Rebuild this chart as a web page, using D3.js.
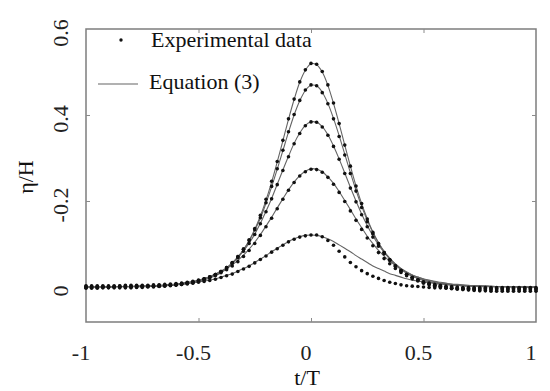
<!DOCTYPE html>
<html><head><meta charset="utf-8">
<script src="https://cdn.jsdelivr.net/npm/d3@7"></script>
<style>html,body{margin:0;padding:0;background:#fff;} svg{display:block;}
text{font-family:"Liberation Serif","Times New Roman",serif;}</style>
</head><body><svg id="c" width="550" height="391"></svg>
<script>
// normalized time grid t/T
const tGrid = [-1,-0.975,-0.95,-0.925,-0.9,-0.875,-0.85,-0.825,-0.8,-0.775,
 -0.75,-0.725,-0.7,-0.675,-0.65,-0.625,-0.6,-0.575,-0.55,-0.525,
 -0.5,-0.475,-0.45,-0.425,-0.4,-0.375,-0.35,-0.325,-0.3,-0.275,
 -0.25,-0.225,-0.2,-0.175,-0.15,-0.125,-0.1,-0.075,-0.05,-0.025,
 0,
 0.025,0.05,0.075,0.1,0.125,0.15,0.175,0.2,0.225,0.25,
 0.275,0.3,0.325,0.35,0.375,0.4,0.425,0.45,0.475,0.5,
 0.525,0.55,0.575,0.6,0.625,0.65,0.675,0.7,0.725,0.75,
 0.775,0.8,0.825,0.85,0.875,0.9,0.925,0.95,0.975,1];

// Equation (3) curves
const eqS1 = [0.000,0.000,0.000,0.000,0.000,0.000,0.000,0.001,0.001,0.001,
 0.001,0.001,0.002,0.002,0.003,0.004,0.005,0.006,0.008,0.010,
 0.013,0.016,0.021,0.026,0.033,0.042,0.054,0.068,0.086,0.108,
 0.134,0.165,0.202,0.244,0.291,0.340,0.390,0.436,0.476,0.504,
 0.519,
 0.517,0.500,0.469,0.427,0.380,0.330,0.281,0.235,0.194,0.159,
 0.128,0.103,0.082,0.065,0.051,0.041,0.032,0.025,0.020,0.015,
 0.012,0.009,0.007,0.006,0.004,0.004,0.003,0.002,0.002,0.001,
 0.001,0.001,0.001,0.000,0.000,0.000,0.000,0.000,0.000,0.000];
const eqS2 = [0.000,0.000,0.000,0.000,0.000,0.000,0.001,0.001,0.001,0.001,
 0.001,0.002,0.002,0.003,0.003,0.004,0.005,0.007,0.009,0.011,
 0.014,0.018,0.022,0.028,0.035,0.044,0.056,0.070,0.087,0.107,
 0.132,0.160,0.195,0.233,0.274,0.317,0.360,0.400,0.433,0.457,
 0.469,
 0.468,0.453,0.427,0.392,0.352,0.309,0.266,0.225,0.188,0.155,
 0.127,0.103,0.083,0.067,0.053,0.042,0.034,0.027,0.021,0.017,
 0.013,0.010,0.008,0.007,0.005,0.004,0.003,0.003,0.002,0.002,
 0.001,0.001,0.001,0.001,0.000,0.000,0.000,0.000,0.000,0.000];
const eqS3 = [0.000,0.000,0.000,0.000,0.000,0.001,0.001,0.001,0.001,0.001,
 0.002,0.002,0.003,0.003,0.004,0.005,0.006,0.008,0.010,0.012,
 0.015,0.019,0.024,0.030,0.037,0.045,0.056,0.069,0.084,0.102,
 0.123,0.148,0.176,0.206,0.239,0.272,0.304,0.334,0.358,0.376,
 0.384,
 0.383,0.373,0.354,0.328,0.298,0.265,0.232,0.200,0.170,0.143,
 0.119,0.098,0.081,0.066,0.054,0.043,0.035,0.028,0.023,0.018,
 0.015,0.012,0.009,0.008,0.006,0.005,0.004,0.003,0.003,0.002,
 0.002,0.001,0.001,0.001,0.001,0.001,0.000,0.000,0.000,0.000];
const eqS4 = [0.000,0.000,0.000,0.001,0.001,0.001,0.001,0.001,0.001,0.002,
 0.002,0.003,0.003,0.004,0.005,0.006,0.007,0.009,0.011,0.013,
 0.016,0.020,0.024,0.029,0.036,0.043,0.052,0.062,0.074,0.088,
 0.104,0.122,0.142,0.162,0.184,0.205,0.226,0.244,0.259,0.269,
 0.275,
 0.274,0.268,0.256,0.241,0.222,0.201,0.180,0.158,0.138,0.118,
 0.101,0.085,0.072,0.060,0.050,0.042,0.034,0.028,0.023,0.019,
 0.016,0.013,0.011,0.009,0.007,0.006,0.005,0.004,0.003,0.003,
 0.002,0.002,0.001,0.001,0.001,0.001,0.001,0.000,0.000,0.000];
const eqS5 = [0.000,0.000,0.000,0.001,0.001,0.001,0.001,0.001,0.001,0.002,
 0.002,0.002,0.003,0.003,0.004,0.005,0.006,0.007,0.008,0.010,
 0.012,0.014,0.016,0.019,0.023,0.027,0.031,0.037,0.043,0.049,
 0.057,0.065,0.073,0.082,0.090,0.098,0.106,0.112,0.117,0.120,
 0.121,
 0.120,0.117,0.112,0.106,0.098,0.090,0.082,0.073,0.065,0.057,
 0.049,0.043,0.037,0.031,0.027,0.023,0.019,0.016,0.014,0.012,
 0.010,0.008,0.007,0.006,0.005,0.004,0.003,0.003,0.002,0.002,
 0.002,0.001,0.001,0.001,0.001,0.001,0.001,0.000,0.000,0.000];

// Experimental data
const expS1 = [0.003,0.003,0.003,0.003,0.003,0.003,0.003,0.004,0.004,0.004,
 0.004,0.004,0.005,0.005,0.006,0.007,0.008,0.009,0.011,0.013,
 0.016,0.019,0.024,0.029,0.036,0.045,0.056,0.070,0.088,0.110,
 0.136,0.167,0.204,0.246,0.292,0.341,0.391,0.437,0.477,0.505,
 0.520,
 0.518,0.501,0.470,0.428,0.380,0.330,0.281,0.235,0.194,0.158,
 0.127,0.101,0.080,0.063,0.049,0.038,0.029,0.022,0.017,0.012,
 0.009,0.006,0.004,0.002,0.001,0.000,-0.001,-0.001,-0.001,-0.001,
 -0.001,-0.001,-0.001,-0.001,-0.001,-0.001,-0.001,-0.001,-0.001,-0.001];
const expS2 = [0.001,0.001,0.001,0.001,0.001,0.001,0.002,0.002,0.002,0.002,
 0.002,0.003,0.003,0.004,0.004,0.005,0.006,0.008,0.010,0.012,
 0.015,0.019,0.023,0.029,0.036,0.045,0.057,0.071,0.088,0.108,
 0.133,0.161,0.196,0.234,0.275,0.318,0.361,0.401,0.434,0.458,
 0.470,
 0.468,0.452,0.426,0.391,0.350,0.307,0.264,0.223,0.185,0.152,
 0.124,0.100,0.080,0.063,0.049,0.038,0.029,0.022,0.016,0.011,
 0.007,0.004,0.002,0.000,-0.001,-0.002,-0.003,-0.003,-0.004,-0.004,
 -0.004,-0.004,-0.004,-0.004,-0.004,-0.004,-0.004,-0.004,-0.004,-0.004];
const expS3 = [-0.001,-0.001,-0.001,-0.001,-0.001,0.000,0.000,0.000,0.000,0.000,
 0.001,0.001,0.002,0.002,0.003,0.004,0.005,0.007,0.009,0.011,
 0.014,0.018,0.023,0.029,0.036,0.044,0.055,0.068,0.083,0.101,
 0.122,0.147,0.175,0.205,0.238,0.271,0.303,0.333,0.357,0.375,
 0.384,
 0.383,0.372,0.353,0.327,0.297,0.264,0.230,0.198,0.168,0.140,
 0.116,0.095,0.077,0.062,0.049,0.038,0.029,0.022,0.016,0.011,
 0.007,0.004,0.001,-0.001,-0.003,-0.004,-0.005,-0.006,-0.006,-0.007,
 -0.007,-0.007,-0.007,-0.007,-0.007,-0.007,-0.007,-0.007,-0.007,-0.007];
const expS4 = [-0.003,-0.003,-0.003,-0.002,-0.002,-0.002,-0.002,-0.002,-0.002,-0.001,
 -0.001,0.000,0.000,0.001,0.002,0.003,0.004,0.006,0.008,0.010,
 0.013,0.017,0.021,0.026,0.033,0.040,0.049,0.059,0.071,0.085,
 0.101,0.120,0.140,0.160,0.182,0.204,0.225,0.243,0.258,0.268,
 0.274,
 0.273,0.267,0.255,0.239,0.220,0.199,0.177,0.155,0.134,0.114,
 0.096,0.080,0.066,0.054,0.043,0.034,0.026,0.019,0.014,0.009,
 0.005,0.002,0.000,-0.002,-0.004,-0.005,-0.006,-0.007,-0.008,-0.009,
 -0.009,-0.010,-0.010,-0.010,-0.010,-0.010,-0.010,-0.010,-0.010,-0.010];
const expS5 = [0.000,0.000,0.000,0.000,0.000,0.000,0.000,0.000,0.000,0.001,
 0.001,0.001,0.002,0.002,0.003,0.004,0.005,0.006,0.007,0.009,
 0.011,0.013,0.015,0.018,0.022,0.026,0.030,0.036,0.042,0.048,
 0.056,0.064,0.072,0.081,0.089,0.097,0.105,0.111,0.116,0.119,
 0.121,
 0.121,0.117,0.108,0.097,0.083,0.070,0.057,0.047,0.038,0.031,
 0.025,0.020,0.015,0.011,0.008,0.005,0.003,0.002,0.001,0.000,
 -0.001,-0.002,-0.002,-0.003,-0.003,-0.003,-0.004,-0.004,-0.004,-0.004,
 -0.004,-0.004,-0.004,-0.004,-0.004,-0.004,-0.004,-0.004,-0.004,-0.004];

const xTicks = [-1, -0.5, 0, 0.5, 1];
const xTickLabels = ["-1", "-0.5", "0", "0.5", "1"];
const yTicks = [0, 0.2, 0.4, 0.6];
const yTickLabels = ["0", "-0.2", "0.4", "0.6"];
const legendLabels = ["Experimental data", "Equation (3)"];
const xTitle = "t/T";
const yTitle = "η/H";

const eqSeries = [eqS1, eqS2, eqS3, eqS4, eqS5];
const expSeries = [expS1, expS2, expS3, expS4, expS5];

const svg = d3.select("#c");
const FONT = "Liberation Serif";
const L = 86, R = 536, T = 29, B = 322;
const x = d3.scaleLinear().domain([-1, 1]).range([L, R]);
const y = d3.scaleLinear().domain([-0.0814, 0.6]).range([B, T]);

// frame
svg.append("rect").attr("x", L).attr("y", T).attr("width", R - L).attr("height", B - T)
  .attr("fill", "none").attr("stroke", "#7d7d7d").attr("stroke-width", 1.5);

// inward ticks
const tickColor = "#8a8a8a";
function styleAxis(g) {
  g.select(".domain").remove();
  g.selectAll(".tick line").attr("stroke", tickColor).attr("stroke-width", 1);
  g.selectAll(".tick text").remove();
}
const innerX = xTicks.slice(1, -1);
const innerY = yTicks.slice(1, -1);
svg.append("g").attr("transform", `translate(0,${B})`)
  .call(d3.axisBottom(x).tickValues(innerX).tickSize(-4)).call(styleAxis);
svg.append("g").attr("transform", `translate(0,${T})`)
  .call(d3.axisTop(x).tickValues(innerX).tickSize(-4)).call(styleAxis);
svg.append("g").attr("transform", `translate(${L},0)`)
  .call(d3.axisLeft(y).tickValues(innerY).tickSize(-4)).call(styleAxis);
svg.append("g").attr("transform", `translate(${R},0)`)
  .call(d3.axisRight(y).tickValues(innerY).tickSize(-4)).call(styleAxis);

// tick labels
svg.append("g").selectAll("text").data(xTicks).join("text")
  .attr("x", d => x(d) - 5).attr("y", 360)
  .attr("text-anchor", "middle").style("font-family", FONT).style("font-size", "22px")
  .attr("fill", "#222").text((d, i) => xTickLabels[i]);
svg.append("g").selectAll("text").data(yTicks).join("text")
  .attr("transform", d => `translate(68,${y(d) + 4}) rotate(-90)`)
  .attr("text-anchor", "middle").style("font-family", FONT).style("font-size", "22px")
  .attr("fill", "#222").text((d, i) => yTickLabels[i]);

// axis titles
svg.append("text").attr("x", 307).attr("y", 385).attr("text-anchor", "middle")
  .style("font-family", FONT).style("font-size", "22px").attr("fill", "#111").text(xTitle);
svg.append("text").attr("transform", "translate(33,177) rotate(-90)").attr("text-anchor", "middle")
  .style("font-family", FONT).style("font-size", "22px").attr("fill", "#111").text(yTitle);

// equation curves
const line = d3.line().x((d, i) => x(tGrid[i])).y(d => y(d)).curve(d3.curveCatmullRom);
svg.append("g").selectAll("path").data(eqSeries).join("path")
  .attr("d", line).attr("fill", "none").attr("stroke", "#646464").attr("stroke-width", 1.1);

// experimental dots
const dotG = svg.append("g");
expSeries.forEach(s => {
  dotG.append("g").selectAll("circle").data(s).join("circle")
    .attr("cx", (d, i) => x(tGrid[i])).attr("cy", d => y(d)).attr("r", 1.8).attr("fill", "#111");
});

// legend
svg.append("circle").attr("cx", 121).attr("cy", 40).attr("r", 1.7).attr("fill", "#111");
svg.append("text").attr("x", 151).attr("y", 47).style("font-family", FONT).style("font-size", "22px")
  .attr("fill", "#111").text(legendLabels[0]);
svg.append("line").attr("x1", 98).attr("x2", 138).attr("y1", 84).attr("y2", 84)
  .attr("stroke", "#646464").attr("stroke-width", 1.2);
svg.append("text").attr("x", 149).attr("y", 89).style("font-family", FONT).style("font-size", "22px")
  .attr("fill", "#111").text(legendLabels[1]);
</script></body></html>
